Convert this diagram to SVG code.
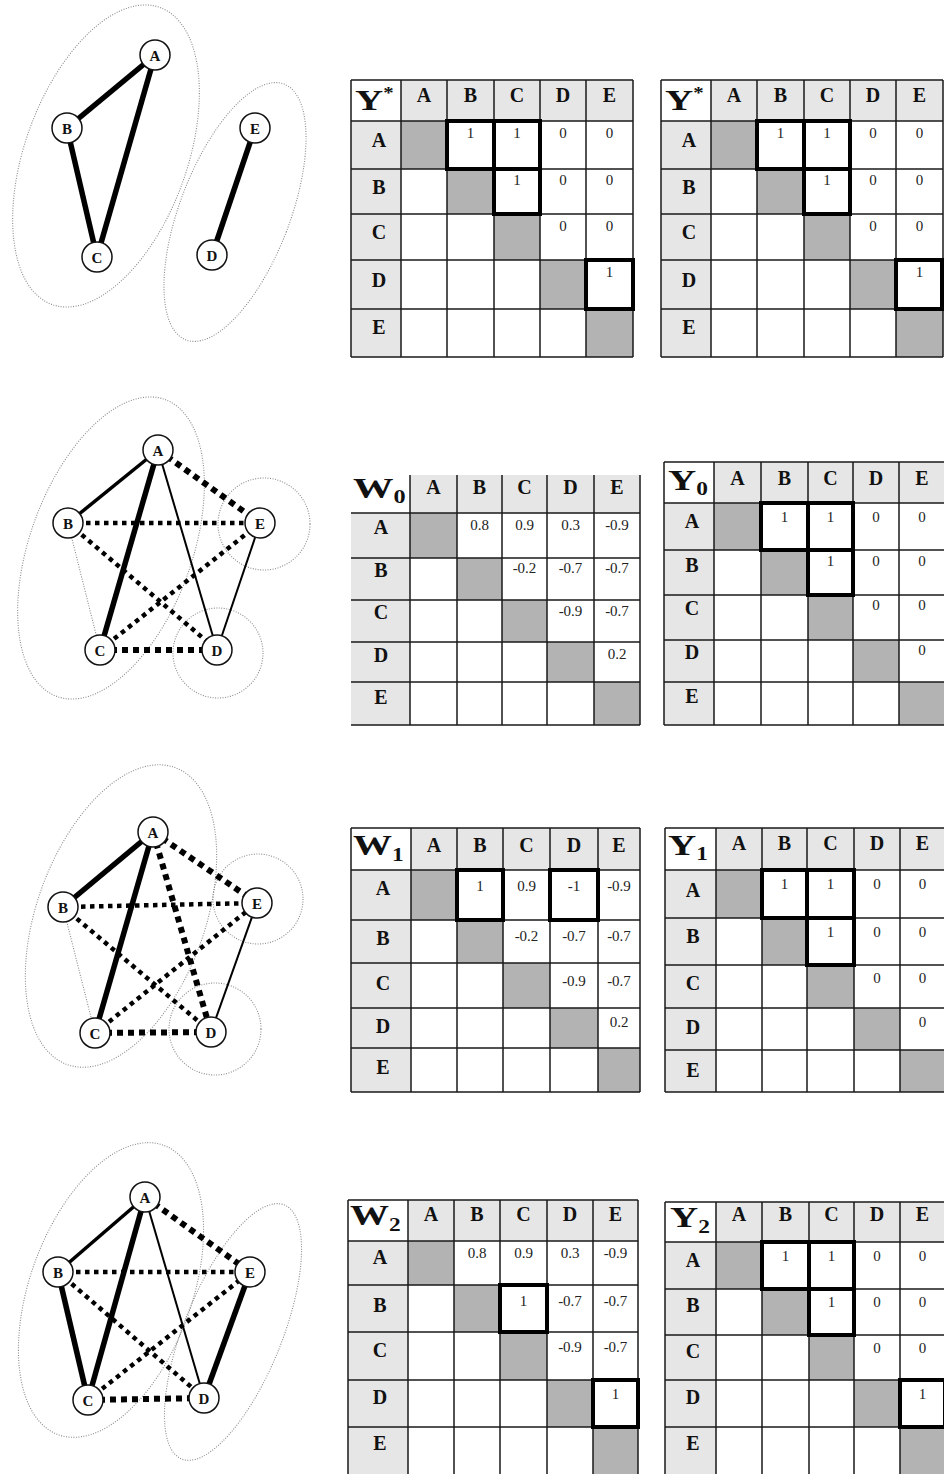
<svg xmlns="http://www.w3.org/2000/svg" width="944" height="1474" viewBox="0 0 944 1474">
<style>
.bg{fill:#ffffff}
.hdr{fill:#e6e6e6}
.dg{fill:#b3b3b3}
.grid{fill:none;stroke:#1a1a1a;stroke-width:1.5}
.hl{fill:none;stroke:#000;stroke-width:4}
.h{font-family:"Liberation Serif",serif;font-weight:bold;font-size:20px;text-anchor:middle;fill:#111}
.v{font-family:"Liberation Serif",serif;font-size:15px;text-anchor:middle;fill:#222}
.ttl{font-family:"Liberation Serif",serif;font-weight:bold;font-size:30px;fill:#111}
.sub{font-size:18px}
.hull{fill:none;stroke:#8a8a8a;stroke-width:1.1;stroke-dasharray:1 1.5}
.nd{fill:#fff;stroke:#111;stroke-width:1.5}
.nl{font-family:"Liberation Serif",serif;font-weight:bold;font-size:15px;text-anchor:middle;fill:#111}
.e{stroke:#000;fill:none}
.e-thick{stroke-width:5.5}
.e-med{stroke-width:3.5}
.e-thin{stroke-width:2}
.d-thick{stroke-width:6;stroke-dasharray:6 5}
.d-med{stroke-width:4.5;stroke-dasharray:4.5 4.5}
.d-thin{stroke:#8a8a8a;stroke-width:1.1;stroke-dasharray:1 1.5}
</style>
<rect class="bg" x="0" y="0" width="944" height="1474"/>

<!-- ===== Panel 1 graph ===== -->
<g id="p1-hulls">
<ellipse class="hull" cx="106" cy="156" rx="81" ry="158" transform="rotate(20 106 156)"/>
<ellipse class="hull" cx="235" cy="212" rx="55" ry="137" transform="rotate(21 235 212)"/>
</g>
<g id="p1-edges">
<line class="e e-thick" x1="155" y1="55" x2="67" y2="128"/>
<line class="e e-thick" x1="155" y1="55" x2="97" y2="257"/>
<line class="e e-thick" x1="67" y1="128" x2="97" y2="257"/>
<line class="e e-thick" x1="255" y1="128" x2="212" y2="255"/>
</g>
<g id="p1-A"><circle class="nd" cx="155" cy="55" r="15"/><text class="nl" x="155" y="60.5">A</text></g>
<g id="p1-B"><circle class="nd" cx="67" cy="128" r="15"/><text class="nl" x="67" y="133.5">B</text></g>
<g id="p1-C"><circle class="nd" cx="97" cy="257" r="15"/><text class="nl" x="97" y="262.5">C</text></g>
<g id="p1-D"><circle class="nd" cx="212" cy="255" r="15"/><text class="nl" x="212" y="260.5">D</text></g>
<g id="p1-E"><circle class="nd" cx="255" cy="128" r="15"/><text class="nl" x="255" y="133.5">E</text></g>

<!-- ===== Panel 2 graph ===== -->
<g id="p2-hulls">
<ellipse class="hull" cx="111" cy="548" rx="81" ry="158" transform="rotate(20 111 548)"/>
<circle class="hull" cx="264" cy="524" r="46"/>
<circle class="hull" cx="218" cy="653" r="45"/>
</g>
<g id="p2-edges">
<line class="e e-med" x1="158" y1="450" x2="68" y2="523"/>
<line class="e e-thick" x1="158" y1="450" x2="100" y2="650"/>
<line class="e e-thin" x1="158" y1="450" x2="217" y2="650"/>
<line class="e e-thin" x1="260" y1="523" x2="217" y2="650"/>
<line class="e d-thin" x1="68" y1="523" x2="100" y2="650"/>
<line class="e d-thick" x1="158" y1="450" x2="260" y2="523"/>
<line class="e d-thick" x1="100" y1="650" x2="217" y2="650"/>
<line class="e d-med" x1="68" y1="523" x2="260" y2="523"/>
<line class="e d-med" x1="68" y1="523" x2="217" y2="650"/>
<line class="e d-med" x1="100" y1="650" x2="260" y2="523"/>
</g>
<g id="p2-A"><circle class="nd" cx="158" cy="450" r="15"/><text class="nl" x="158" y="455.5">A</text></g>
<g id="p2-B"><circle class="nd" cx="68" cy="523" r="15"/><text class="nl" x="68" y="528.5">B</text></g>
<g id="p2-C"><circle class="nd" cx="100" cy="650" r="15"/><text class="nl" x="100" y="655.5">C</text></g>
<g id="p2-D"><circle class="nd" cx="217" cy="650" r="15"/><text class="nl" x="217" y="655.5">D</text></g>
<g id="p2-E"><circle class="nd" cx="260" cy="523" r="15"/><text class="nl" x="260" y="528.5">E</text></g>

<!-- ===== Panel 3 graph ===== -->
<g id="p3-hulls">
<ellipse class="hull" cx="121" cy="916" rx="84" ry="158" transform="rotate(20 121 916)"/>
<circle class="hull" cx="258" cy="899" r="45"/>
<circle class="hull" cx="215" cy="1029" r="46"/>
</g>
<g id="p3-edges">
<line class="e e-thick" x1="153" y1="832" x2="63" y2="907"/>
<line class="e e-thick" x1="153" y1="832" x2="95" y2="1033"/>
<line class="e e-thin" x1="257" y1="903" x2="211" y2="1032"/>
<line class="e d-thin" x1="63" y1="907" x2="95" y2="1033"/>
<line class="e d-thick" x1="153" y1="832" x2="211" y2="1032"/>
<line class="e d-thick" x1="153" y1="832" x2="257" y2="903"/>
<line class="e d-thick" x1="95" y1="1033" x2="211" y2="1032"/>
<line class="e d-med" x1="63" y1="907" x2="257" y2="903"/>
<line class="e d-med" x1="63" y1="907" x2="211" y2="1032"/>
<line class="e d-med" x1="95" y1="1033" x2="257" y2="903"/>
</g>
<g id="p3-A"><circle class="nd" cx="153" cy="832" r="15"/><text class="nl" x="153" y="837.5">A</text></g>
<g id="p3-B"><circle class="nd" cx="63" cy="907" r="15"/><text class="nl" x="63" y="912.5">B</text></g>
<g id="p3-C"><circle class="nd" cx="95" cy="1033" r="15"/><text class="nl" x="95" y="1038.5">C</text></g>
<g id="p3-D"><circle class="nd" cx="211" cy="1032" r="15"/><text class="nl" x="211" y="1037.5">D</text></g>
<g id="p3-E"><circle class="nd" cx="257" cy="903" r="15"/><text class="nl" x="257" y="908.5">E</text></g>

<!-- ===== Panel 4 graph ===== -->
<g id="p4-hulls">
<ellipse class="hull" cx="111" cy="1290" rx="81" ry="154" transform="rotate(20 111 1290)"/>
<ellipse class="hull" cx="233" cy="1332" rx="49" ry="137" transform="rotate(22 233 1332)"/>
</g>
<g id="p4-edges">
<line class="e e-med" x1="145" y1="1197" x2="58" y2="1272"/>
<line class="e e-thick" x1="145" y1="1197" x2="88" y2="1400"/>
<line class="e e-thin" x1="145" y1="1197" x2="204" y2="1398"/>
<line class="e e-thick" x1="58" y1="1272" x2="88" y2="1400"/>
<line class="e e-thick" x1="250" y1="1272" x2="204" y2="1398"/>
<line class="e d-thick" x1="145" y1="1197" x2="250" y2="1272"/>
<line class="e d-thick" x1="88" y1="1400" x2="204" y2="1398"/>
<line class="e d-med" x1="58" y1="1272" x2="250" y2="1272"/>
<line class="e d-med" x1="58" y1="1272" x2="204" y2="1398"/>
<line class="e d-med" x1="88" y1="1400" x2="250" y2="1272"/>
</g>
<g id="p4-A"><circle class="nd" cx="145" cy="1197" r="15"/><text class="nl" x="145" y="1202.5">A</text></g>
<g id="p4-B"><circle class="nd" cx="58" cy="1272" r="15"/><text class="nl" x="58" y="1277.5">B</text></g>
<g id="p4-C"><circle class="nd" cx="88" cy="1400" r="15"/><text class="nl" x="88" y="1405.5">C</text></g>
<g id="p4-D"><circle class="nd" cx="204" cy="1398" r="15"/><text class="nl" x="204" y="1403.5">D</text></g>
<g id="p4-E"><circle class="nd" cx="250" cy="1272" r="15"/><text class="nl" x="250" y="1277.5">E</text></g>

<!-- ===== Table Y* (left) ===== -->
<g id="tbl-ystar-left">
<rect class="hdr" x="401" y="80" width="232" height="41"/>
<rect class="hdr" x="351" y="121" width="50" height="236"/>
<rect class="dg" x="401" y="121" width="46" height="48"/>
<rect class="dg" x="447" y="169" width="47" height="45"/>
<rect class="dg" x="494" y="214" width="46" height="46"/>
<rect class="dg" x="540" y="260" width="46" height="49"/>
<rect class="dg" x="586" y="309" width="47" height="48"/>
<path class="grid" d="M351 80V357M401 80V357M447 80V357M494 80V357M540 80V357M586 80V357M633 80V357M351 80H633M351 121H633M351 169H633M351 214H633M351 260H633M351 309H633M351 357H633"/>
<text class="ttl" transform="translate(355,110) scale(1.3,1)" font-size="32">Y<tspan font-size="16" dy="-12">*</tspan></text>
<text class="h" x="424" y="102">A</text><text class="h" x="470.5" y="102">B</text><text class="h" x="517" y="102">C</text><text class="h" x="563" y="102">D</text><text class="h" x="609.5" y="102">E</text>
<text class="h" x="379" y="147">A</text><text class="h" x="379" y="194">B</text><text class="h" x="379" y="239">C</text><text class="h" x="379" y="287">D</text><text class="h" x="379" y="334">E</text>
<text class="v" x="470.5" y="138">1</text><text class="v" x="517" y="138">1</text><text class="v" x="563" y="138">0</text><text class="v" x="609.5" y="138">0</text>
<text class="v" x="517" y="185">1</text><text class="v" x="563" y="185">0</text><text class="v" x="609.5" y="185">0</text>
<text class="v" x="563" y="231">0</text><text class="v" x="609.5" y="231">0</text>
<text class="v" x="609.5" y="277">1</text>
<rect class="hl" x="447" y="121" width="47" height="48"/>
<rect class="hl" x="494" y="121" width="46" height="48"/>
<rect class="hl" x="494" y="169" width="46" height="45"/>
<rect class="hl" x="586" y="260" width="47" height="49"/>
</g>

<!-- ===== Table Y* (right) ===== -->
<g id="tbl-ystar-right">
<rect class="hdr" x="711" y="80" width="232" height="41"/>
<rect class="hdr" x="661" y="121" width="50" height="236"/>
<rect class="dg" x="711" y="121" width="46" height="48"/>
<rect class="dg" x="757" y="169" width="47" height="45"/>
<rect class="dg" x="804" y="214" width="46" height="46"/>
<rect class="dg" x="850" y="260" width="46" height="49"/>
<rect class="dg" x="896" y="309" width="47" height="48"/>
<path class="grid" d="M661 80V357M711 80V357M757 80V357M804 80V357M850 80V357M896 80V357M943 80V357M661 80H943M661 121H943M661 169H943M661 214H943M661 260H943M661 309H943M661 357H943"/>
<text class="ttl" transform="translate(665,110) scale(1.3,1)" font-size="32">Y<tspan font-size="16" dy="-12">*</tspan></text>
<text class="h" x="734" y="102">A</text><text class="h" x="780.5" y="102">B</text><text class="h" x="827" y="102">C</text><text class="h" x="873" y="102">D</text><text class="h" x="919.5" y="102">E</text>
<text class="h" x="689" y="147">A</text><text class="h" x="689" y="194">B</text><text class="h" x="689" y="239">C</text><text class="h" x="689" y="287">D</text><text class="h" x="689" y="334">E</text>
<text class="v" x="780.5" y="138">1</text><text class="v" x="827" y="138">1</text><text class="v" x="873" y="138">0</text><text class="v" x="919.5" y="138">0</text>
<text class="v" x="827" y="185">1</text><text class="v" x="873" y="185">0</text><text class="v" x="919.5" y="185">0</text>
<text class="v" x="873" y="231">0</text><text class="v" x="919.5" y="231">0</text>
<text class="v" x="919.5" y="277">1</text>
<rect class="hl" x="757" y="121" width="47" height="48"/>
<rect class="hl" x="804" y="121" width="46" height="48"/>
<rect class="hl" x="804" y="169" width="46" height="45"/>
<rect class="hl" x="896" y="260" width="46" height="49"/>
</g>

<!-- ===== Table W0 ===== -->
<g id="tbl-w0">
<rect class="hdr" x="410" y="475" width="230" height="38"/>
<rect class="hdr" x="351" y="513" width="59" height="212"/>
<rect class="dg" x="410" y="513" width="47" height="45"/>
<rect class="dg" x="457" y="558" width="45" height="42"/>
<rect class="dg" x="502" y="600" width="45" height="42"/>
<rect class="dg" x="547" y="642" width="47" height="40"/>
<rect class="dg" x="594" y="682" width="46" height="43"/>
<path class="grid" d="M410 475V725M457 475V725M502 475V725M547 475V725M594 475V725M640 475V725M351 513H640M351 558H640M351 600H640M351 642H640M351 682H640M351 725H640"/>
<text class="ttl" transform="translate(353,498) scale(1.35,1)" font-size="28">W<tspan class="sub" dy="5">0</tspan></text>
<text class="h" x="433.5" y="494">A</text><text class="h" x="479.5" y="494">B</text><text class="h" x="524.5" y="494">C</text><text class="h" x="570.5" y="494">D</text><text class="h" x="617" y="494">E</text>
<text class="h" x="381" y="534">A</text><text class="h" x="381" y="577">B</text><text class="h" x="381" y="619">C</text><text class="h" x="381" y="662">D</text><text class="h" x="381" y="704">E</text>
<text class="v" x="479.5" y="530">0.8</text><text class="v" x="524.5" y="530">0.9</text><text class="v" x="570.5" y="530">0.3</text><text class="v" x="617" y="530">-0.9</text>
<text class="v" x="524.5" y="573">-0.2</text><text class="v" x="570.5" y="573">-0.7</text><text class="v" x="617" y="573">-0.7</text>
<text class="v" x="570.5" y="616">-0.9</text><text class="v" x="617" y="616">-0.7</text>
<text class="v" x="617" y="659">0.2</text>
</g>

<!-- ===== Table Y0 ===== -->
<g id="tbl-y0">
<rect class="hdr" x="714" y="462" width="231" height="41"/>
<rect class="hdr" x="664" y="503" width="50" height="222"/>
<rect class="dg" x="714" y="503" width="47" height="47"/>
<rect class="dg" x="761" y="550" width="47" height="45"/>
<rect class="dg" x="808" y="595" width="45" height="45"/>
<rect class="dg" x="853" y="640" width="46" height="42"/>
<rect class="dg" x="899" y="682" width="46" height="43"/>
<path class="grid" d="M664 462V725M714 462V725M761 462V725M808 462V725M853 462V725M899 462V725M664 462H945M664 503H945M664 550H945M664 595H945M664 640H945M664 682H945M664 725H945"/>
<text class="ttl" transform="translate(668,490) scale(1.3,1)" font-size="30">Y<tspan class="sub" dy="5">0</tspan></text>
<text class="h" x="737.5" y="485">A</text><text class="h" x="784.5" y="485">B</text><text class="h" x="830.5" y="485">C</text><text class="h" x="876" y="485">D</text><text class="h" x="922" y="485">E</text>
<text class="h" x="692" y="528">A</text><text class="h" x="692" y="572">B</text><text class="h" x="692" y="615">C</text><text class="h" x="692" y="659">D</text><text class="h" x="692" y="703">E</text>
<text class="v" x="784.5" y="522">1</text><text class="v" x="830.5" y="522">1</text><text class="v" x="876" y="522">0</text><text class="v" x="922" y="522">0</text>
<text class="v" x="830.5" y="566">1</text><text class="v" x="876" y="566">0</text><text class="v" x="922" y="566">0</text>
<text class="v" x="876" y="610">0</text><text class="v" x="922" y="610">0</text>
<text class="v" x="922" y="655">0</text>
<rect class="hl" x="761" y="503" width="47" height="47"/>
<rect class="hl" x="808" y="503" width="45" height="47"/>
<rect class="hl" x="808" y="550" width="45" height="45"/>
</g>

<!-- ===== Table W1 ===== -->
<g id="tbl-w1">
<rect class="hdr" x="411" y="828" width="229" height="42"/>
<rect class="hdr" x="351" y="870" width="60" height="222"/>
<rect class="dg" x="411" y="870" width="46" height="50"/>
<rect class="dg" x="457" y="920" width="46" height="43"/>
<rect class="dg" x="503" y="963" width="47" height="45"/>
<rect class="dg" x="550" y="1008" width="48" height="40"/>
<rect class="dg" x="598" y="1048" width="42" height="44"/>
<path class="grid" d="M351 828V1092M411 828V1092M457 828V1092M503 828V1092M550 828V1092M598 828V1092M640 828V1092M351 828H640M351 870H640M351 920H640M351 963H640M351 1008H640M351 1048H640M351 1092H640"/>
<text class="ttl" transform="translate(353,855) scale(1.3,1)" font-size="28">W<tspan class="sub" dy="6">1</tspan></text>
<text class="h" x="434" y="852">A</text><text class="h" x="480" y="852">B</text><text class="h" x="526.5" y="852">C</text><text class="h" x="574" y="852">D</text><text class="h" x="619" y="852">E</text>
<text class="h" x="383" y="895">A</text><text class="h" x="383" y="945">B</text><text class="h" x="383" y="990">C</text><text class="h" x="383" y="1033">D</text><text class="h" x="383" y="1074">E</text>
<text class="v" x="480" y="891">1</text><text class="v" x="526.5" y="891">0.9</text><text class="v" x="574" y="891">-1</text><text class="v" x="619" y="891">-0.9</text>
<text class="v" x="526.5" y="941">-0.2</text><text class="v" x="574" y="941">-0.7</text><text class="v" x="619" y="941">-0.7</text>
<text class="v" x="574" y="986">-0.9</text><text class="v" x="619" y="986">-0.7</text>
<text class="v" x="619" y="1027">0.2</text>
<rect class="hl" x="457" y="870" width="46" height="50"/>
<rect class="hl" x="550" y="870" width="48" height="50"/>
</g>

<!-- ===== Table Y1 ===== -->
<g id="tbl-y1">
<rect class="hdr" x="716" y="828" width="229" height="42"/>
<rect class="hdr" x="665" y="870" width="51" height="222"/>
<rect class="dg" x="716" y="870" width="46" height="48"/>
<rect class="dg" x="762" y="918" width="45" height="47"/>
<rect class="dg" x="807" y="965" width="47" height="43"/>
<rect class="dg" x="854" y="1008" width="46" height="42"/>
<rect class="dg" x="900" y="1050" width="45" height="42"/>
<path class="grid" d="M665 828V1092M716 828V1092M762 828V1092M807 828V1092M854 828V1092M900 828V1092M665 828H945M665 870H945M665 918H945M665 965H945M665 1008H945M665 1050H945M665 1092H945"/>
<text class="ttl" transform="translate(668,855) scale(1.3,1)" font-size="30">Y<tspan class="sub" dy="5">1</tspan></text>
<text class="h" x="739" y="850">A</text><text class="h" x="784.5" y="850">B</text><text class="h" x="830.5" y="850">C</text><text class="h" x="877" y="850">D</text><text class="h" x="922.5" y="850">E</text>
<text class="h" x="693" y="897">A</text><text class="h" x="693" y="943">B</text><text class="h" x="693" y="990">C</text><text class="h" x="693" y="1034">D</text><text class="h" x="693" y="1077">E</text>
<text class="v" x="784.5" y="889">1</text><text class="v" x="830.5" y="889">1</text><text class="v" x="877" y="889">0</text><text class="v" x="922.5" y="889">0</text>
<text class="v" x="830.5" y="937">1</text><text class="v" x="877" y="937">0</text><text class="v" x="922.5" y="937">0</text>
<text class="v" x="877" y="983">0</text><text class="v" x="922.5" y="983">0</text>
<text class="v" x="922.5" y="1027">0</text>
<rect class="hl" x="762" y="870" width="45" height="48"/>
<rect class="hl" x="807" y="870" width="47" height="48"/>
<rect class="hl" x="807" y="918" width="47" height="47"/>
</g>

<!-- ===== Table W2 ===== -->
<g id="tbl-w2">
<rect class="hdr" x="408" y="1200" width="230" height="41"/>
<rect class="hdr" x="348" y="1241" width="60" height="240"/>
<rect class="dg" x="408" y="1241" width="46" height="44"/>
<rect class="dg" x="454" y="1285" width="46" height="47"/>
<rect class="dg" x="500" y="1332" width="47" height="48"/>
<rect class="dg" x="547" y="1380" width="46" height="47"/>
<rect class="dg" x="593" y="1427" width="45" height="53"/>
<path class="grid" d="M348 1200V1480M408 1200V1480M454 1200V1480M500 1200V1480M547 1200V1480M593 1200V1480M638 1200V1480M348 1200H638M348 1241H638M348 1285H638M348 1332H638M348 1380H638M348 1427H638"/>
<text class="ttl" transform="translate(350,1225) scale(1.3,1)" font-size="28">W<tspan class="sub" dy="6">2</tspan></text>
<text class="h" x="431" y="1221">A</text><text class="h" x="477" y="1221">B</text><text class="h" x="523.5" y="1221">C</text><text class="h" x="570" y="1221">D</text><text class="h" x="615.5" y="1221">E</text>
<text class="h" x="380" y="1264">A</text><text class="h" x="380" y="1312">B</text><text class="h" x="380" y="1357">C</text><text class="h" x="380" y="1404">D</text><text class="h" x="380" y="1450">E</text>
<text class="v" x="477" y="1258">0.8</text><text class="v" x="523.5" y="1258">0.9</text><text class="v" x="570" y="1258">0.3</text><text class="v" x="615.5" y="1258">-0.9</text>
<text class="v" x="523.5" y="1306">1</text><text class="v" x="570" y="1306">-0.7</text><text class="v" x="615.5" y="1306">-0.7</text>
<text class="v" x="570" y="1352">-0.9</text><text class="v" x="615.5" y="1352">-0.7</text>
<text class="v" x="615.5" y="1399">1</text>
<rect class="hl" x="500" y="1285" width="47" height="47"/>
<rect class="hl" x="593" y="1380" width="45" height="47"/>
</g>

<!-- ===== Table Y2 ===== -->
<g id="tbl-y2">
<rect class="hdr" x="716" y="1202" width="229" height="40"/>
<rect class="hdr" x="665" y="1242" width="51" height="238"/>
<rect class="dg" x="716" y="1242" width="46" height="47"/>
<rect class="dg" x="762" y="1289" width="47" height="46"/>
<rect class="dg" x="809" y="1335" width="45" height="45"/>
<rect class="dg" x="854" y="1380" width="46" height="47"/>
<rect class="dg" x="900" y="1427" width="45" height="53"/>
<path class="grid" d="M665 1202V1480M716 1202V1480M762 1202V1480M809 1202V1480M854 1202V1480M900 1202V1480M665 1202H945M665 1242H945M665 1289H945M665 1335H945M665 1380H945M665 1427H945"/>
<text class="ttl" transform="translate(670,1227) scale(1.3,1)" font-size="30">Y<tspan class="sub" dy="6">2</tspan></text>
<text class="h" x="739" y="1221">A</text><text class="h" x="785.5" y="1221">B</text><text class="h" x="831.5" y="1221">C</text><text class="h" x="877" y="1221">D</text><text class="h" x="922.5" y="1221">E</text>
<text class="h" x="693" y="1267">A</text><text class="h" x="693" y="1312">B</text><text class="h" x="693" y="1358">C</text><text class="h" x="693" y="1404">D</text><text class="h" x="693" y="1450">E</text>
<text class="v" x="785.5" y="1261">1</text><text class="v" x="831.5" y="1261">1</text><text class="v" x="877" y="1261">0</text><text class="v" x="922.5" y="1261">0</text>
<text class="v" x="831.5" y="1307">1</text><text class="v" x="877" y="1307">0</text><text class="v" x="922.5" y="1307">0</text>
<text class="v" x="877" y="1353">0</text><text class="v" x="922.5" y="1353">0</text>
<text class="v" x="922.5" y="1399">1</text>
<rect class="hl" x="762" y="1242" width="47" height="47"/>
<rect class="hl" x="809" y="1242" width="45" height="47"/>
<rect class="hl" x="809" y="1289" width="45" height="46"/>
<rect class="hl" x="900" y="1380" width="45" height="47"/>
</g>
</svg>
